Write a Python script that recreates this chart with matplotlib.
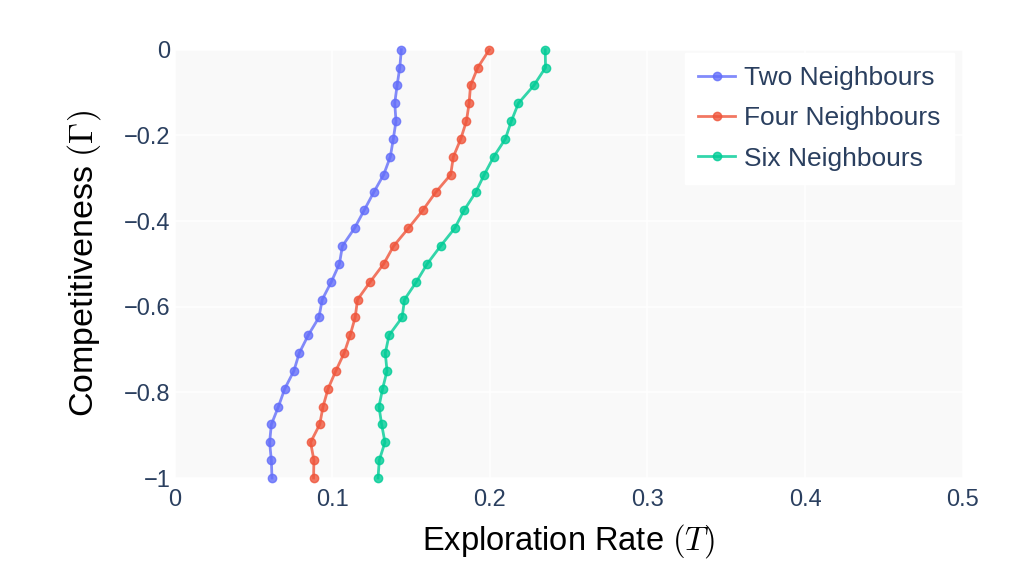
import numpy as np
import matplotlib
matplotlib.use("Agg")
import matplotlib.pyplot as plt

plt.rcParams['font.family'] = ['Liberation Sans', 'DejaVu Sans']
plt.rcParams['mathtext.fontset'] = 'cm'

# competitiveness values (y axis), 25 steps from 0 to -1
gamma = np.linspace(0, -1, 25)

two_nb = [0.1438, 0.1428, 0.1411, 0.1396, 0.1404, 0.1387, 0.1368, 0.1326, 0.1262,
          0.1202, 0.1141, 0.1064, 0.1045, 0.0994, 0.0936, 0.0915, 0.0847, 0.0790,
          0.0756, 0.0698, 0.0658, 0.0613, 0.0602, 0.0613, 0.0617]
four_nb = [0.1996, 0.1923, 0.1877, 0.1868, 0.1851, 0.1815, 0.1768, 0.1751, 0.1655,
           0.1574, 0.1483, 0.1389, 0.1326, 0.1241, 0.1160, 0.1145, 0.1113, 0.1075,
           0.1022, 0.0973, 0.0941, 0.0920, 0.0862, 0.0883, 0.0881]
six_nb = [0.2351, 0.2353, 0.2279, 0.2181, 0.2136, 0.2098, 0.2024, 0.1964, 0.1909,
          0.1836, 0.1777, 0.1687, 0.1602, 0.1534, 0.1458, 0.1443, 0.1360, 0.1336,
          0.1347, 0.1319, 0.1296, 0.1313, 0.1334, 0.1298, 0.1290]

series = [("Two Neighbours", two_nb, "#636efa"),
          ("Four Neighbours", four_nb, "#ef553b"),
          ("Six Neighbours", six_nb, "#00cc96")]

x_ticks = [0, 0.1, 0.2, 0.3, 0.4, 0.5]
y_ticks = [0, -0.2, -0.4, -0.6, -0.8, -1]

fig = plt.figure(figsize=(10.34, 5.78), dpi=100)
ax = fig.add_axes([0.169, 0.173, 0.762, 0.741])
ax.set_facecolor('#f9f9f9')

for name, vals, col in series:
    ax.plot(vals, gamma, '-o', color=col, lw=2, ms=6, alpha=0.8,
            label=name, clip_on=False)

ax.set_xlim(0, 0.5)
ax.set_ylim(-1, 0)
ax.set_xticks(x_ticks)
ax.set_yticks(y_ticks)
ax.set_xticklabels(['0', '0.1', '0.2', '0.3', '0.4', '0.5'])
ax.set_yticklabels(['0', '\u22120.2', '\u22120.4', '\u22120.6', '\u22120.8', '\u22121'])
ax.grid(color='white', lw=1.2)
ax.set_axisbelow(True)
for s in ax.spines.values():
    s.set_visible(False)
ax.tick_params(length=0, labelsize=17, colors='#2a3f5f')
ax.tick_params(axis='x', pad=8)
ax.tick_params(axis='y', pad=3)

ax.set_xlabel(r'Exploration Rate $(T)$', fontsize=23.5, labelpad=8)
ax.set_ylabel(r'Competitiveness $(\Gamma)$', fontsize=24.5, labelpad=15)

leg = ax.legend(loc='upper right', bbox_to_anchor=(0.989, 0.993), borderaxespad=0,
                fontsize=19, frameon=True, fancybox=False, edgecolor='white',
                framealpha=1, handlelength=1.4, handletextpad=0.35,
                borderpad=0.5, labelspacing=0.62)
for t in leg.get_texts():
    t.set_color('#2a3f5f')

fig.savefig('out.png', dpi=100)
